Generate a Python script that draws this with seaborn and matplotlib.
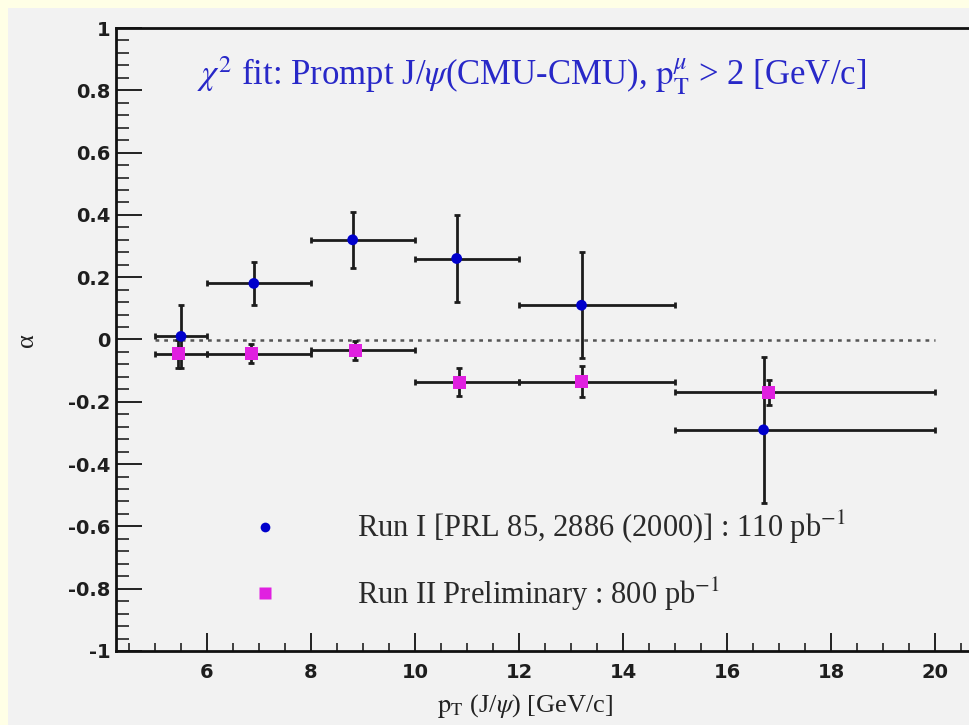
import numpy as np
import pandas as pd
import matplotlib
matplotlib.use("Agg")
import matplotlib.pyplot as plt
import seaborn as sns
from matplotlib.lines import Line2D
from matplotlib.patches import Rectangle
from matplotlib.ticker import MultipleLocator, FuncFormatter

# ---------------- data ----------------
bin_lo = [5, 6, 8, 10, 12, 15]
bin_hi = [6, 8, 10, 12, 15, 20]

run1_pt = [5.5, 6.9, 8.8, 10.8, 13.2, 16.7]
run1_alpha = [0.01, 0.18, 0.32, 0.26, 0.11, -0.29]
run1_err = [0.10, 0.07, 0.09, 0.14, 0.17, 0.235]

run2_pt = [5.45, 6.85, 8.85, 10.85, 13.2, 16.8]
run2_alpha = [-0.045, -0.045, -0.035, -0.137, -0.135, -0.17]
run2_err = [0.045, 0.03, 0.03, 0.045, 0.05, 0.04]

run1_label = "Run I [PRL 85, 2886 (2000)] : 110 pb$^{-1}$"
run2_label = "Run II Preliminary : 800 pb$^{-1}$"
title_text = r"$\chi^{2}$ fit: Prompt J/$\psi$(CMU-CMU), $\mathrm{p}_{\mathrm{T}}^{\mu}$ > 2 [GeV/c]"
xlabel_text = r"$\mathrm{p}_{\mathrm{T}}$ (J/$\psi$) [GeV/c]"
ylabel_text = "α"

# ---------------- style ----------------
sns.set_style("ticks")
plt.rcParams["font.family"] = ["DejaVu Sans"]
plt.rcParams["mathtext.fontset"] = "stix"
plt.rcParams["axes.unicode_minus"] = False

W, H = 969, 725
fig = plt.figure(figsize=(W / 100, H / 100), dpi=100, facecolor="#FFFFE6")
fig.add_artist(Rectangle((8 / W, 0), 1, 1 - 8 / H, transform=fig.transFigure,
                         facecolor="#F2F2F2", edgecolor="none", zorder=0))

left, right, top, bottom = 116, 969, 28, 651
ax = fig.add_axes([left / W, 1 - bottom / H, (right - left) / W, (bottom - top) / H])
ax.set_facecolor("#F2F2F2")

df1 = pd.DataFrame({"pt": run1_pt, "alpha": run1_alpha, "err": run1_err,
                    "lo": bin_lo, "hi": bin_hi})
df2 = pd.DataFrame({"pt": run2_pt, "alpha": run2_alpha, "err": run2_err,
                    "lo": bin_lo, "hi": bin_hi})

# zero reference line
ax.hlines(0, min(bin_lo), max(bin_hi), colors="#555555", linestyles=(0, (1.5, 2.0)),
          linewidth=1.8, zorder=1)

ecol = "#1c1c1c"
for d in (df2, df1):
    ax.errorbar(d["pt"], d["alpha"],
                xerr=[d["pt"] - d["lo"], d["hi"] - d["pt"]],
                yerr=d["err"], fmt="none", ecolor=ecol, elinewidth=2.0,
                capsize=2.5, capthick=2.0, zorder=2)

sns.scatterplot(data=df1, x="pt", y="alpha", ax=ax, color="#0000CC", marker="o",
                s=60, edgecolor="none", zorder=4, legend=False)
sns.scatterplot(data=df2, x="pt", y="alpha", ax=ax, color="#E020E0", marker="s",
                s=85, edgecolor="none", zorder=3, legend=False)

ax.set_xlim(4.25, 20.65)
ax.set_ylim(-1, 1)

ax.xaxis.set_major_locator(MultipleLocator(2))
ax.xaxis.set_minor_locator(MultipleLocator(0.5))
ax.yaxis.set_major_locator(MultipleLocator(0.2))
ax.yaxis.set_minor_locator(MultipleLocator(0.04))


def fmt(v, pos):
    v = round(v, 6)
    if v == 0:
        return "0"
    return f"{v:g}"


ax.yaxis.set_major_formatter(FuncFormatter(fmt))
ax.xaxis.set_major_formatter(FuncFormatter(fmt))

ax.tick_params(axis="x", which="major", direction="in", length=13, width=1.4,
               color="#222222", pad=9, labelsize=14, labelcolor="#1e1e1e")
ax.tick_params(axis="x", which="minor", direction="in", length=6, width=1.2,
               color="#222222")
ax.tick_params(axis="y", which="major", direction="in", length=19, width=1.4,
               color="#222222", pad=4, labelsize=14, labelcolor="#1e1e1e")
ax.tick_params(axis="y", which="minor", direction="in", length=9, width=1.2,
               color="#222222")
for lab in ax.get_xticklabels() + ax.get_yticklabels():
    lab.set_fontweight("bold")

for s in ("left", "bottom", "top"):
    ax.spines[s].set_color("#111111")
    ax.spines[s].set_linewidth(2.0)
ax.spines["right"].set_visible(False)

ax.set_xlabel(xlabel_text, fontsize=19, family="Liberation Serif", color="#222222")
ax.xaxis.set_label_coords((525 - left) / (right - left), (bottom - 692) / (bottom - top))
ax.set_ylabel(ylabel_text, fontsize=19, family="Liberation Serif", color="#222222")
ax.yaxis.set_label_coords((38 - left) / (right - left), (bottom - 340) / (bottom - top))

ax.text((532 - left) / (right - left), (bottom - 76) / (bottom - top), title_text,
        transform=ax.transAxes, ha="center", va="center", fontsize=25,
        family="Liberation Serif", color="#2828C8")

handles = [
    Line2D([], [], linestyle="none", marker="o", markersize=7, color="#0000CC",
           markeredgecolor="none", label=run1_label),
    Line2D([], [], linestyle="none", marker="s", markersize=8, color="#E020E0",
           markeredgecolor="none", label=run2_label),
]
leg = ax.legend(handles=handles, loc="center left", frameon=False,
                bbox_to_anchor=((250 - left) / (right - left), (bottom - 561) / (bottom - top)),
                borderpad=0, borderaxespad=0, handlelength=1.0, handletextpad=2.5,
                labelspacing=0.95, prop={"family": "Liberation Serif", "size": 22})
for t in leg.get_texts():
    t.set_color("#2a2a2a")

fig.savefig("out.png", dpi=100, facecolor=fig.get_facecolor())
